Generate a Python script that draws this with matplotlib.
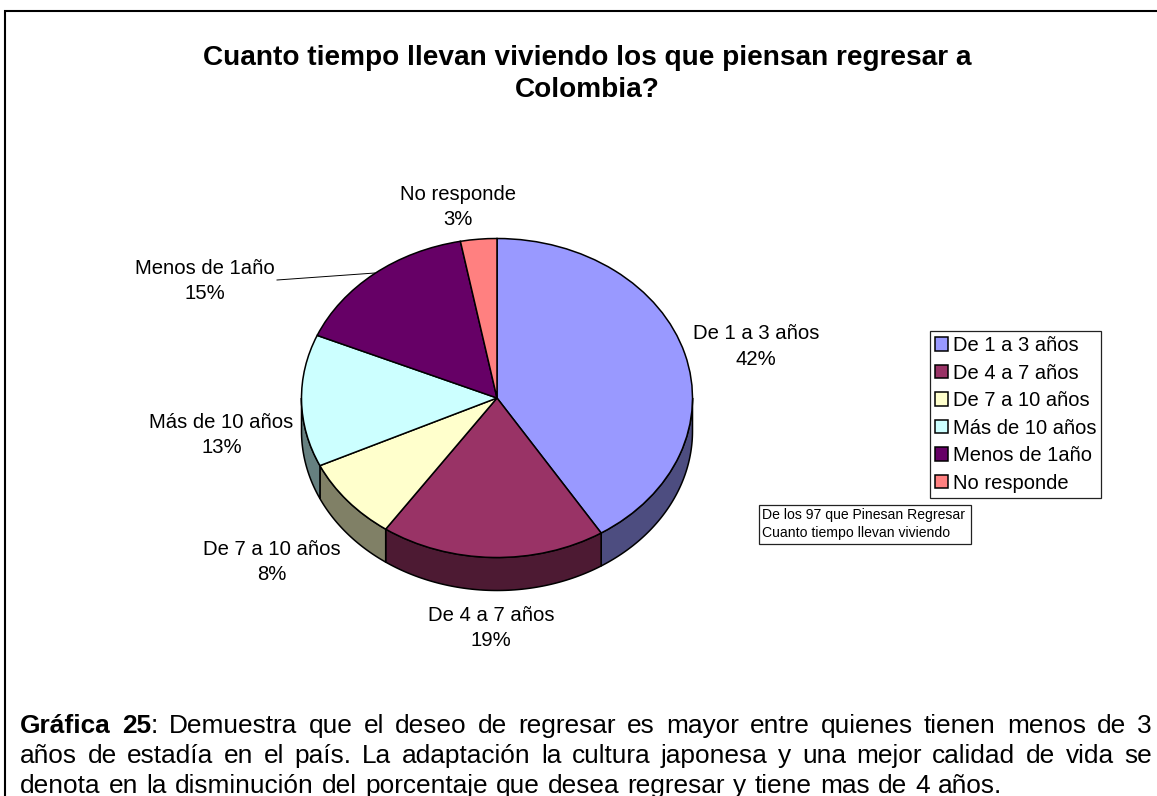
import matplotlib
matplotlib.use("Agg")
import matplotlib.pyplot as plt
import numpy as np
from matplotlib.patches import Polygon, Rectangle

plt.rcParams["font.family"] = ["Liberation Sans", "DejaVu Sans"]

# Data

CATEGORIES = ["De 1 a 3 años", "De 4 a 7 años", "De 7 a 10 años",
              "Más de 10 años", "Menos de 1año", "No responde"]
PERCENT_LABELS = [42, 19, 8, 13, 15, 3]
SLICE_SHARES = [41.1, 18.6, 8.4, 13.4, 15.6, 3.0]

TOP_COLORS = ["#9999FF", "#993366", "#FFFFCC", "#CCFFFF", "#660066", "#FF8080"]
WALL_COLORS = ["#4D4D80", "#4D1A33", "#808066", "#668080", "#330033", "#804040"]

TITLE = "Cuanto tiempo llevan viviendo los que piensan regresar a\nColombia?"
NOTE = "De los 97 que Pinesan Regresar\nCuanto tiempo llevan viviendo"

# each word is a list of (text, weight) pieces
CAPTION = [
    [[("Gráfica", "bold")], [("25", "bold"), (":", "normal")]] + [
        [(w, "normal")] for w in
        "Demuestra que el deseo de regresar es mayor entre quienes tienen menos de 3".split()],
    [[(w, "normal")] for w in
     "años de estadía en el país. La adaptación la cultura japonesa y una mejor calidad de vida se".split()],
    [[(w, "normal")] for w in
     "denota en la disminución del porcentaje que desea regresar y tiene mas de 4 años.".split()],
]

W, H = 1157, 796
LABEL_XY = [(756, 346.5), (491, 628), (272, 562), (221.5, 435), (205, 281), (458, 207)]

# Figure, one axes in pixel coordinates for all the text

fig = plt.figure(figsize=(W / 100, H / 100), dpi=100, facecolor="white")
ax = fig.add_axes([0, 0, 1, 1])
ax.set_xlim(0, W)
ax.set_ylim(H, 0)
ax.axis("off")

# Page frame: left and top only reach the picture edge
ax.plot([5, 5, W], [H, 11, 11], color="black", lw=1.5, solid_joinstyle="miter")

ax.text(587, 74, TITLE, ha="center", va="center", fontsize=20.2,
        fontweight="bold", linespacing=1.33)

# Pie

CX, CY, RX, RY, DEPTH = 497, 398, 195.5, 159.5, 33
depth = DEPTH / RY

pie_ax = fig.add_axes([(CX - RX) / W, 1 - (CY + RY + DEPTH) / H,
                       2 * RX / W, (2 * RY + DEPTH) / H])
wedges, _ = pie_ax.pie(SLICE_SHARES, colors=TOP_COLORS, startangle=90, counterclock=False,
                       wedgeprops={"edgecolor": "black", "linewidth": 1.1, "zorder": 3})
pie_ax.set_aspect("auto")
pie_ax.set_xlim(-1, 1)
pie_ax.set_ylim(-1 - depth, 1)
pie_ax.patch.set_alpha(0)
for w in wedges:
    w.set_clip_on(False)

# Side wall: only the part of each slice that faces down
edges = np.cumsum([0] + SLICE_SHARES) / sum(SLICE_SHARES) * 2 * np.pi
for i, color in enumerate(WALL_COLORS):
    a0 = max(edges[i], np.pi / 2)
    a1 = min(edges[i + 1], 3 * np.pi / 2)
    if a1 <= a0:
        continue
    t = np.linspace(a0, a1, 80)
    x, y = np.sin(t), np.cos(t)
    pts = np.vstack([np.column_stack([x, y]),
                     np.column_stack([x[::-1], y[::-1] - depth])])
    pie_ax.add_patch(Polygon(pts, closed=True, facecolor=color, edgecolor="black",
                             lw=1.1, zorder=2, clip_on=False))

# Data labels

for name, pct, (lx, ly) in zip(CATEGORIES, PERCENT_LABELS, LABEL_XY):
    ax.text(lx, ly, f"{name}\n{pct}%", ha="center", va="center", fontsize=14.6, linespacing=1.41)

ax.plot([277, 375], [280, 273], color="black", lw=0.7)

# Legend and note box

leg = ax.legend(wedges, CATEGORIES, loc="upper left", bbox_to_anchor=(930, 331),
                bbox_transform=ax.transData, fontsize=14.5, frameon=True, fancybox=False,
                edgecolor="#222222", framealpha=1, borderaxespad=0, borderpad=0.26,
                handlelength=0.65, handleheight=0.65, handletextpad=0.21, labelspacing=0.42)
leg.get_frame().set_linewidth(0.9)
leg.set_zorder(5)

ax.add_patch(Rectangle((759, 505), 212, 39, facecolor="white", edgecolor="#222222", lw=0.9))
ax.text(762, 524, NOTE, ha="left", va="center", fontsize=10.1, linespacing=1.37)

# Justified caption

CAPTION_LEFT = 20
CAPTION_RIGHT = [1152, 1152, 1002]
CAPTION_BASE = [733, 763, 793]
CAPTION_SIZE = 18.9
rend = fig.canvas.get_renderer()


def piece_width(text, weight):
    t = ax.text(0, 0, text, fontsize=CAPTION_SIZE, fontweight=weight)
    width = t.get_window_extent(rend).width
    t.remove()
    return width


for words, base, right in zip(CAPTION, CAPTION_BASE, CAPTION_RIGHT):
    widths = [sum(piece_width(p, wt) for p, wt in word) for word in words]
    gap = (right - CAPTION_LEFT - sum(widths)) / (len(words) - 1)
    x = CAPTION_LEFT
    for word, width in zip(words, widths):
        px = x
        for p, wt in word:
            ax.text(px, base, p, fontsize=CAPTION_SIZE, fontweight=wt, ha="left", va="baseline")
            px += piece_width(p, wt)
        x += width + gap

fig.savefig("out.png", dpi=100, facecolor="white")
